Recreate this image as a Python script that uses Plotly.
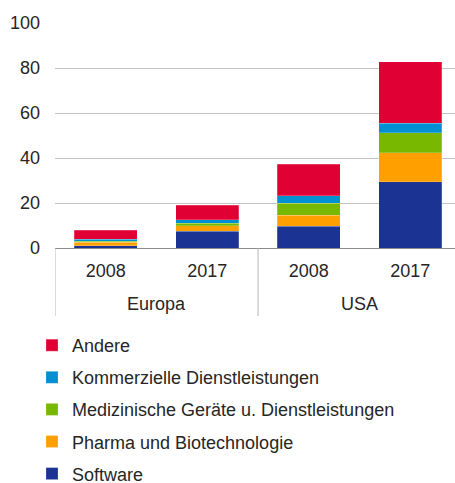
import plotly.graph_objects as go

regions = ["Europa", "Europa", "USA", "USA"]
years = ["2008", "2017", "2008", "2017"]

sectors = [
    "Software",
    "Pharma und Biotechnologie",
    "Medizinische Geräte u. Dienstleistungen",
    "Kommerzielle Dienstleistungen",
    "Andere",
]
software = [0.9, 7.4, 9.75, 29.4]
pharma = [1.7, 2.4, 4.9, 13.0]
medizin = [0.4, 1.3, 5.3, 8.9]
kommerziell = [0.9, 1.5, 3.25, 4.1]
andere = [4.0, 6.3, 14.0, 27.4]
values = [software, pharma, medizin, kommerziell, andere]
colors = ["#1b3393", "#ffa000", "#78b800", "#008fd0", "#e10034"]

y_ticks = [0, 20, 40, 60, 80, 100]

FONT = "Liberation Sans, Arial, sans-serif"
TXT = "#262626"

# unique category keys, shown with the year as tick text
keys = [f"{r} {y}" for r, y in zip(regions, years)]

fig = go.Figure()
for i, (name, vals, col) in enumerate(zip(sectors, values, colors)):
    fig.add_trace(go.Bar(
        x=keys, y=vals, name=name, legendgroup=name,
        legendrank=len(sectors) - i,
        marker=dict(color=col, line=dict(color="rgba(255,255,255,0.35)", width=0.6)),
    ))

PLOT_H = 483 - 23 - 235

# group labels and dividers
groups = []
for r in regions:
    if r not in groups:
        groups.append(r)
annotations = []
shapes = []
for g in groups:
    idx = [i for i, r in enumerate(regions) if r == g]
    annotations.append(dict(
        x=sum(idx) / len(idx), xref="x", y=-56 / PLOT_H, yref="paper",
        text=g, showarrow=False, xanchor="center", yanchor="middle",
        font=dict(family=FONT, size=18, color=TXT),
    ))
    shapes.append(dict(
        type="line", xref="x", yref="paper",
        x0=idx[0] - 0.5, x1=idx[0] - 0.5, y0=0, y1=-68 / PLOT_H,
        line=dict(color="#b5b5b5", width=1),
    ))

fig.update_layout(
    width=455, height=483,
    margin=dict(l=55, r=0, t=23, b=235, autoexpand=False),
    barmode="stack", bargap=0.38,
    paper_bgcolor="white", plot_bgcolor="white",
    font=dict(family=FONT, size=18, color=TXT),
    showlegend=True,
    legend=dict(
        orientation="v", traceorder="grouped", tracegroupgap=5.7,
        xref="container", yref="container",
        x=32 / 455, xanchor="left", y=1 - 327 / 483, yanchor="top",
        font=dict(family=FONT, size=18, color=TXT),
        bgcolor="rgba(0,0,0,0)",
    ),
    xaxis=dict(
        type="category", range=[-0.5, 3.44], automargin=False,
        tickvals=keys, ticktext=years,
        showline=True, linecolor="#8c8c8c", linewidth=1,
        showgrid=False, ticks="",
        ticklabelstandoff=6,
        tickfont=dict(family=FONT, size=18, color=TXT),
    ),
    yaxis=dict(
        range=[0, 100], tickvals=y_ticks, ticktext=[str(v) for v in y_ticks],
        automargin=False,
        showgrid=True, gridcolor="#c4c4c4", gridwidth=1,
        zeroline=False, showline=False, ticks="",
        ticklabelstandoff=14,
        tickfont=dict(family=FONT, size=18, color=TXT),
    ),
    annotations=annotations,
    shapes=shapes,
)

fig.write_html(
    "out.html",
    config={"displayModeBar": False},
    post_script="document.body.style.margin='0';document.body.style.overflow='hidden';",
)
